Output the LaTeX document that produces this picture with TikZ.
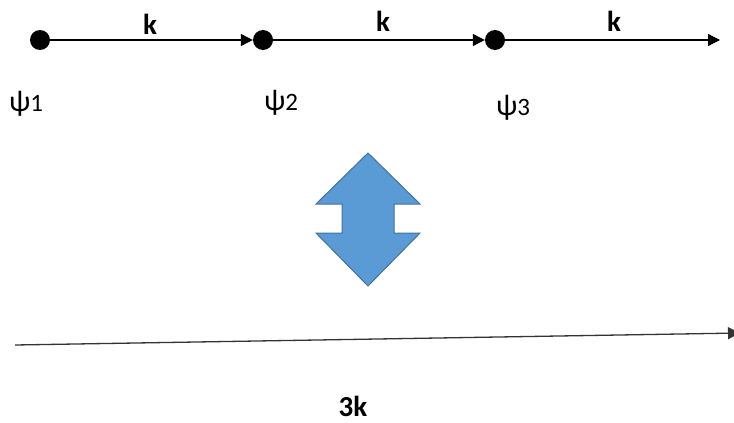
\documentclass[tikz,border=0pt]{standalone}
\usepackage{fontspec}
\setmainfont{Carlito}
\usetikzlibrary{arrows.meta}
\definecolor{arrowblue}{HTML}{5B9BD5}
\definecolor{arrowedge}{HTML}{41719C}
\newcommand{\bigpsi}{{\fontsize{30}{30}\selectfont ψ}}
\tikzset{
  dot/.style={circle,fill=black,inner sep=0pt,minimum size=20pt},
  link/.style={line width=1.3pt,-{Triangle[length=12pt,width=12pt]}},
  klabel/.style={font=\fontsize{29}{29}\selectfont\bfseries,inner sep=0pt},
  psilabel/.style={font=\fontsize{25}{25}\selectfont,inner sep=0pt},
}
\begin{document}
\begin{tikzpicture}[x=1pt,y=-1pt]
\useasboundingbox (0,0) rectangle (734,423);
% dots
\node[dot] (p1) at (40,40) {};
\node[dot] (p2) at (263,40) {};
\node[dot] (p3) at (495,40) {};
\coordinate (e) at (720,40);
% connectors
\draw[link] (p1) -- (p2);
\draw[link] (p2) -- (p3);
\draw[link] (p3) -- (e);
% k labels
\node[klabel] (k1) at (150,24) {k};
\node[klabel] (k2) at (383,21) {k};
\node[klabel] (k3) at (614,21) {k};
% psi labels
\node[psilabel] (l1) at (26,104) {\bigpsi1};
\node[psilabel] (l2) at (281,103) {\bigpsi2};
\node[psilabel] (l3) at (513,108) {\bigpsi3};
% double arrow
\draw[fill=arrowblue,draw=arrowedge,line width=1pt]
  (368,153) -- (420,204) -- (394,204) -- (394,233) -- (420,233)
  -- (368,286) -- (316,233) -- (342,233) -- (342,204) -- (316,204) -- cycle;
% bottom arrow
\coordinate (b0) at (15,345);
\coordinate (b1) at (740,333);
\draw[line width=1.3pt,draw=black!80,-{Triangle[length=12pt,width=12pt]}] (b0) -- (b1);
\node[klabel] (k4) at (353,406) {3k};
\end{tikzpicture}
\end{document}
